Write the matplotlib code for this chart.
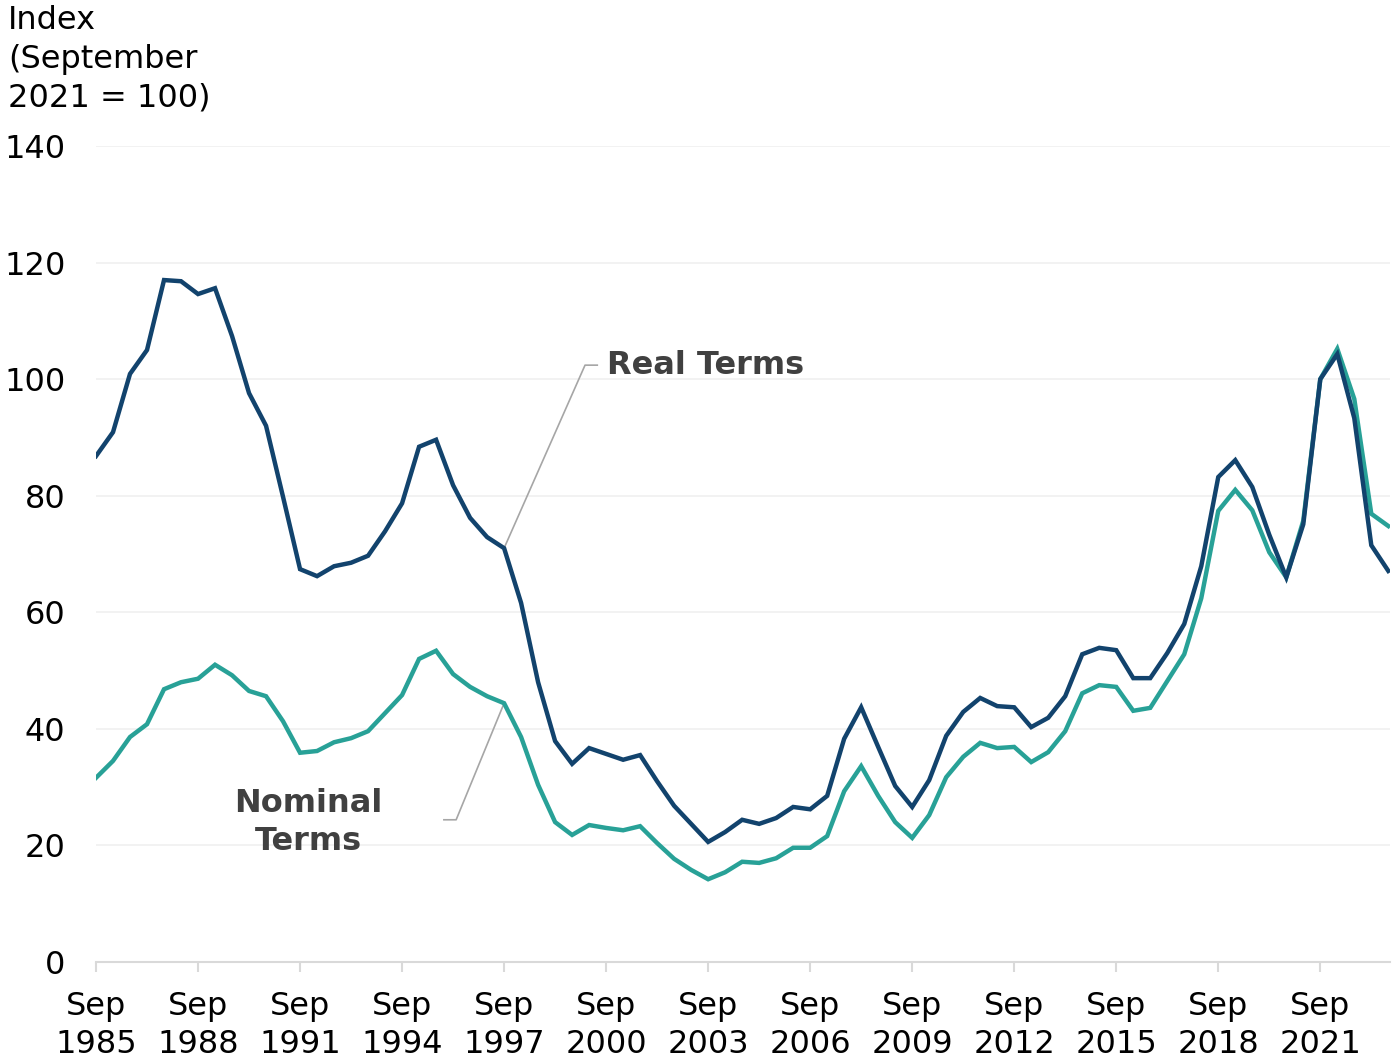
import matplotlib
matplotlib.use("Agg")
import matplotlib.pyplot as plt
import numpy as np

plt.rcParams['font.family'] = ['DejaVu Sans']

# Semi-annual observations, Sep 1985 .. Sep 2023
start_year = 1985.75
real_terms = [86.8, 90.9, 100.9, 105.0, 117.0, 116.8, 114.6, 115.6, 107.4, 97.6,
              92.0, 79.8, 67.4, 66.2, 67.9, 68.5, 69.7, 73.9, 78.7, 88.4,
              89.6, 81.8, 76.2, 72.9, 71.0, 61.6, 48.0, 37.9, 34.0, 36.7,
              35.7, 34.7, 35.5, 31.0, 26.8, 23.7, 20.6, 22.3, 24.4, 23.7,
              24.7, 26.6, 26.2, 28.5, 38.3, 43.7, 36.9, 30.2, 26.6, 31.2,
              38.8, 42.9, 45.3, 43.9, 43.7, 40.3, 41.9, 45.6, 52.8, 53.9,
              53.5, 48.7, 48.7, 53.0, 58.0, 67.9, 83.2, 86.1, 81.5, 73.3,
              66.0, 75.1, 100.0, 104.3, 93.3, 71.5, 67.1]
nominal_terms = [31.6, 34.5, 38.6, 40.8, 46.8, 48.0, 48.6, 51.0, 49.2, 46.5,
                 45.6, 41.3, 35.9, 36.2, 37.7, 38.4, 39.6, 42.7, 45.8, 52.0,
                 53.4, 49.4, 47.2, 45.6, 44.4, 38.6, 30.4, 24.0, 21.8, 23.5,
                 23.0, 22.6, 23.3, 20.4, 17.7, 15.8, 14.2, 15.4, 17.2, 17.0,
                 17.8, 19.6, 19.6, 21.6, 29.3, 33.6, 28.5, 24.0, 21.3, 25.2,
                 31.7, 35.2, 37.6, 36.7, 36.9, 34.3, 36.0, 39.6, 46.1, 47.5,
                 47.2, 43.1, 43.6, 48.2, 52.8, 62.4, 77.4, 81.0, 77.5, 70.3,
                 66.0, 75.7, 100.0, 105.2, 96.6, 76.9, 74.8]
tick_years = [1985, 1988, 1991, 1994, 1997, 2000, 2003, 2006, 2009, 2012, 2015, 2018, 2021]
tick_labels = [f"Sep\n{y}" for y in tick_years]
y_ticks = [0, 20, 40, 60, 80, 100, 120, 140]

x = start_year + 0.5 * np.arange(len(real_terms))

NAVY = "#12436D"
TEAL = "#28A197"
TXT = "#404040"
FS = 23

fig = plt.figure(figsize=(13.99, 10.60), dpi=100)
ax = fig.add_axes([96/1399, 98/1060, (1390-96)/1399, (962-146)/1060])

ax.plot(x, nominal_terms, color=TEAL, lw=3.2, solid_joinstyle='miter', zorder=3)
ax.plot(x, real_terms, color=NAVY, lw=3.2, solid_joinstyle='miter', zorder=4)

ax.set_xlim(1985.75, 2023.8)
ax.set_ylim(0, 140)
ax.set_yticks(y_ticks)
ax.set_yticklabels([str(v) for v in y_ticks])
ax.set_xticks([y + 0.75 for y in tick_years])
ax.set_xticklabels(tick_labels, linespacing=1.3)

for v in y_ticks[1:]:
    ax.axhline(v, color="#f0f0f0", lw=1.2, zorder=1)

for s in ['top', 'right', 'left']:
    ax.spines[s].set_visible(False)
ax.spines['bottom'].set_color("#d9d9d9")
ax.spines['bottom'].set_linewidth(1.5)

ax.tick_params(axis='y', length=0, pad=22, labelsize=FS, colors='black')
ax.tick_params(axis='x', length=7, width=1.5, color="#d9d9d9", pad=14, labelsize=FS, labelcolor='black')

fig.text(8/1399, 1 - 5/1060, "Index\n(September\n2021 = 100)", ha='left', va='top',
         fontsize=FS, linespacing=1.33, color='black')

# Leader lines and labels
i_lab = 24
xr = x[i_lab]
ax.plot([xr, 2000.13, 2000.49], [real_terms[i_lab], 102.4, 102.4], color="#a6a6a6", lw=1.2, zorder=2)
ax.text(2000.78, 102.4, "Real Terms", fontsize=FS, fontweight='bold', color=TXT, ha='left', va='center')
ax.plot([xr, 1996.34, 1995.98], [nominal_terms[i_lab], 24.4, 24.4], color="#a6a6a6", lw=1.2, zorder=2)
ax.text(1991.99, 24.0, "Nominal\nTerms", fontsize=FS, fontweight='bold', color=TXT, ha='center', va='center',
        linespacing=1.3)

fig.savefig("out.png", dpi=100)
